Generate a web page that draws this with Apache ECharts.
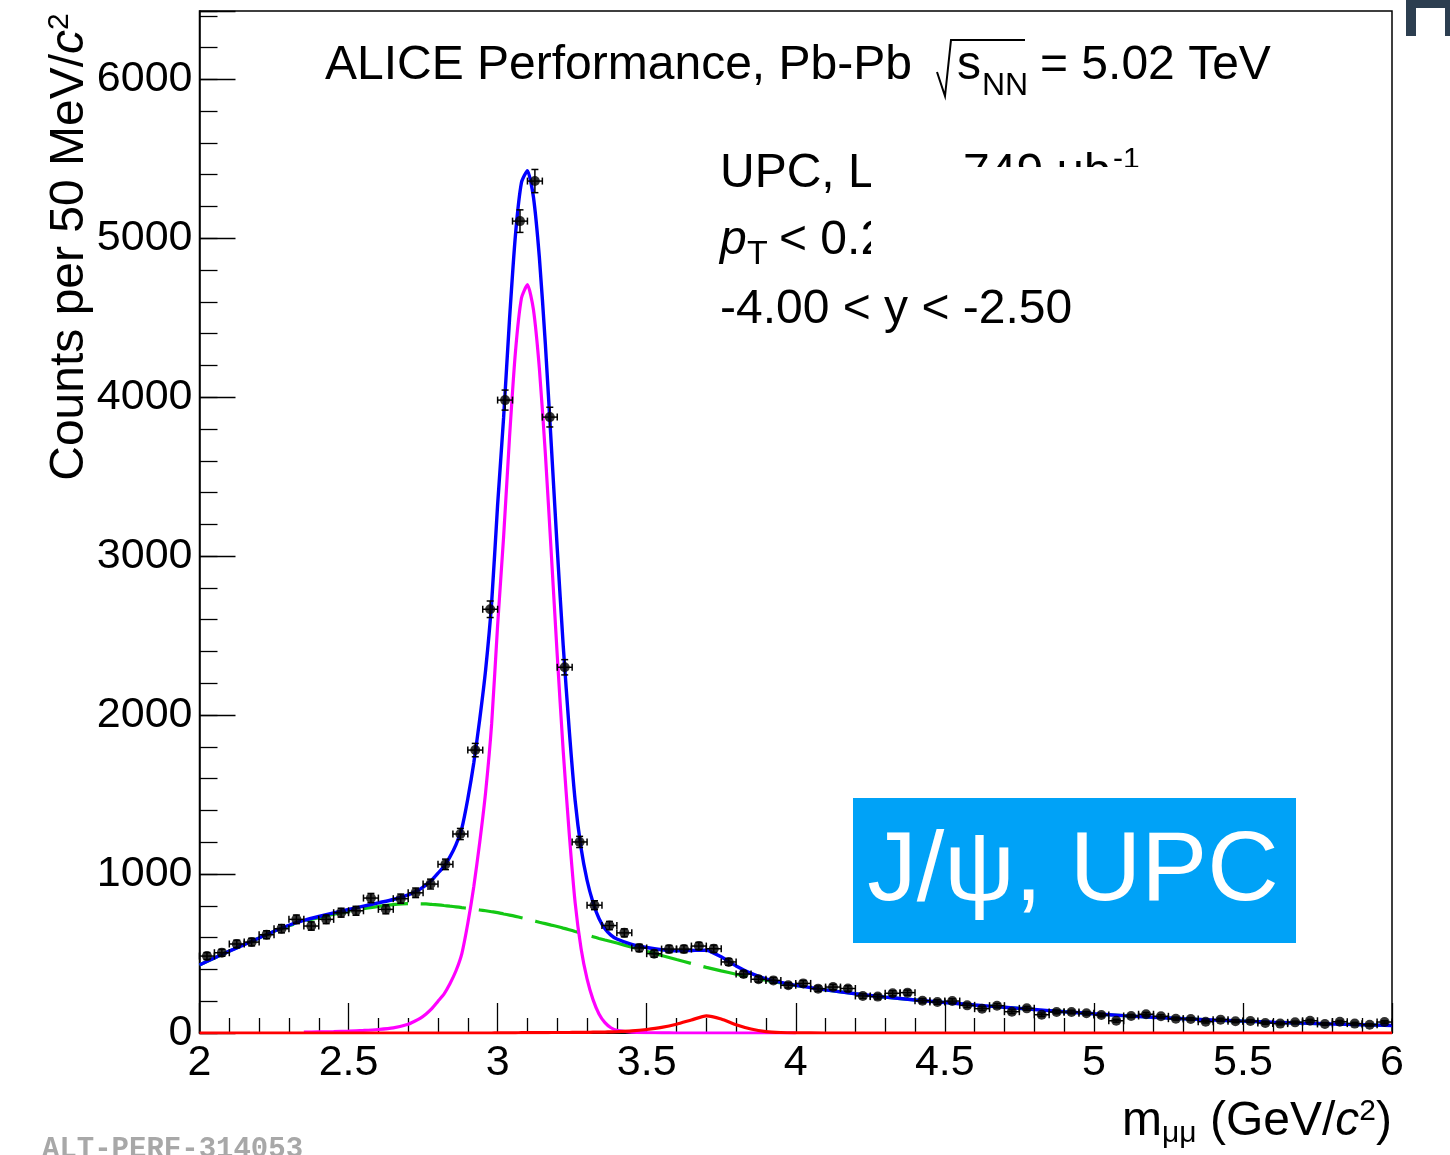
<!DOCTYPE html>
<html><head><meta charset="utf-8">
<script src="https://cdn.jsdelivr.net/npm/echarts@6/dist/echarts.min.js"></script>
<style>html,body{margin:0;padding:0;background:#fff}#c{width:1450px;height:1155px}</style>
</head><body><div id="c"></div>
<script>
// ---- data points (50 MeV bins) ----
const binCenters = [2.025,2.075,2.125,2.175,2.225,2.275,2.325,2.375,2.425,2.475,2.525,2.575,2.625,2.675,2.725,2.775,2.825,2.875,2.925,2.975,3.025,3.075,3.125,3.175,3.225,3.275,3.325,3.375,3.425,3.475,3.525,3.575,3.625,3.675,3.725,3.775,3.825,3.875,3.925,3.975,4.025,4.075,4.125,4.175,4.225,4.275,4.325,4.375,4.425,4.475,4.525,4.575,4.625,4.675,4.725,4.775,4.825,4.875,4.925,4.975,5.025,5.075,5.125,5.175,5.225,5.275,5.325,5.375,5.425,5.475,5.525,5.575,5.625,5.675,5.725,5.775,5.825,5.875,5.925,5.975];
const counts = [484,505,560,572,618,656,715,673,715,757,769,849,778,845,882,937,1061,1252,1780,2666,3982,5108,5360,3875,2301,1202,804,676,630,535,499,528,528,547,530,447,371,338,331,300,312,279,289,280,233,229,250,254,203,195,201,174,153,172,134,155,115,132,132,124,113,77,107,118,105,90,88,71,84,74,75,63,59,67,77,57,71,59,52,69];
const countErrors = [22,22,24,24,25,26,27,26,27,28,28,29,28,29,30,31,33,35,42,52,63,71,73,62,48,35,28,26,25,23,22,23,23,23,23,21,19,18,18,17,18,17,17,17,15,15,16,16,14,14,14,13,12,13,12,12,11,11,11,11,11,9,10,11,10,9,9,8,9,9,9,8,8,8,9,8,8,8,7,8];
const binHalfWidth = 0.025;

// ---- fit curves ----
const curveMass = [2.00,2.05,2.10,2.15,2.20,2.25,2.30,2.35,2.40,2.45,2.50,2.55,2.60,2.65,2.70,
 2.72,2.74,2.76,2.78,2.80,2.82,2.84,2.86,2.88,2.90,2.92,2.94,2.96,2.98,3.00,3.02,3.04,3.06,3.08,3.10,3.12,3.14,3.16,3.18,3.20,3.22,3.24,3.26,3.28,3.30,3.32,3.34,3.36,3.38,3.40,
 3.45,3.50,3.55,3.60,3.65,3.70,3.75,3.80,3.85,3.90,3.95,4.00,
 4.10,4.20,4.30,4.40,4.50,4.60,4.70,4.80,4.90,5.00,5.10,5.20,5.30,5.40,5.50,5.60,5.70,5.80,5.90,6.00];
const bkgVals = [428,472,515,556,598,640,675,703,726,747,765,782,797,808,814,
 814,813,812,809,806,802,798,794,789,784,779,774,769,763,757,749,742,734,725,716,707,697,688,679,670,660,650,639,628,617,606,595,585,576,566,
 540,514,488,462,437,413,391,370,350,332,315,299,
 271,247,226,208,192,176,162,148,134,121,109,99,90,82,75,68,62,57,52,47];
const jpsiVals = [null,null,null,null,null,null,null,5,7,9,12,16,22,32,55,
 72,92,120,155,200,245,310,390,500,690,920,1200,1520,1946,2566,3120,3750,4290,4624,4708,4553,4181,3648,3018,2375,1774,1259,820,530,340,210,120,65,33,17,
 5,2,1,0,0,0,0,0,0,0,0,0,
 null,null,null,null,null,null,null,null,null,null,null,null,null,null,null,null,null,null,null,null];
const psi2sVals = [0,0,0,0,0,0,0,0,0,0,0,0,0,0,0,
 0,0,0,0,0,0,0,0,0,0,0,0,0,0,1,1,1,1,2,2,2,2,2,3,3,3,3,4,4,4,5,5,6,7,8,
 13,22,35,55,82,108,88,52,25,9,3,1,
 0,0,0,0,0,0,0,0,0,0,0,0,0,0,0,0,0,0,0,0];
const totalVals = [428,472,515,556,598,640,678,708,733,756,777,798,819,840,869,
 886,905,932,964,1006,1047,1108,1184,1289,1474,1699,1974,2289,2709,3324,3870,4493,5025,5351,5426,5262,4880,4338,3700,3048,2437,1912,1463,1162,961,821,720,656,616,591,
 558,538,524,517,519,521,479,422,375,341,318,300,
 271,247,226,208,192,176,162,148,134,121,109,99,90,82,75,68,62,57,52,47];

const xTicks = {min: 2, max: 6, interval: 0.5};
const yTicks = {min: 0, max: 6430, major: 1000, minor: 200};

const FONT = '"Liberation Sans", Arial, Helvetica, sans-serif';
function pairs(xs, ys) { const out = []; for (let i = 0; i < xs.length; i++) { if (ys[i] !== null) out.push([xs[i], ys[i]]); } return out; }
const pointData = binCenters.map((x, i) => [x, counts[i], countErrors[i]]);

const chart = echarts.init(document.getElementById('c'), null, {renderer: 'canvas'});
const axisLineStyle = {color: '#000', width: 1.5};
const tickStyle = {color: '#000', width: 1.3};

const option = {
  animation: false,
  backgroundColor: '#fff',
  grid: {left: 199.5, right: 58, top: 11, bottom: 122, show: true, borderColor: '#000', borderWidth: 1.5, backgroundColor: 'transparent'},
  xAxis: {
    type: 'value', min: xTicks.min, max: xTicks.max, interval: xTicks.interval,
    axisLine: {show: true, lineStyle: axisLineStyle},
    axisTick: {show: true, inside: true, length: 30, lineStyle: tickStyle},
    minorTick: {show: true, splitNumber: 5, length: 15, lineStyle: tickStyle},
    splitLine: {show: false}, minorSplitLine: {show: false},
    axisLabel: {color: '#000', fontSize: 43, fontFamily: FONT, margin: 9, formatter: v => String(v)}
  },
  yAxis: [
    {
      type: 'value', min: yTicks.min, max: yTicks.max, interval: yTicks.minor, position: 'left',
      axisLine: {show: true, lineStyle: axisLineStyle},
      axisTick: {show: true, inside: true, length: 18, lineStyle: tickStyle},
      axisLabel: {show: false}, splitLine: {show: false}
    },
    {
      type: 'value', min: yTicks.min, max: yTicks.max, interval: yTicks.major, position: 'left',
      axisLine: {show: false},
      axisTick: {show: true, inside: true, length: 36, lineStyle: tickStyle},
      axisLabel: {color: '#000', fontSize: 43, fontFamily: FONT, margin: 7,
        formatter: v => (v % yTicks.major === 0 ? String(v) : '')},
      splitLine: {show: false}
    }
  ],
  series: [
    {type: 'line', name: 'background', data: pairs(curveMass, bkgVals), showSymbol: false, symbol: 'none', smooth: 0.2,
      lineStyle: {color: '#14c814', width: 3.2, type: [45, 13]}, z: 2},
    {type: 'line', name: 'J/psi', data: pairs(curveMass, jpsiVals), showSymbol: false, symbol: 'none', smooth: 0.2,
      lineStyle: {color: '#ff00ff', width: 3.2}, z: 2},
    {type: 'line', name: 'psi2S', data: pairs(curveMass, psi2sVals), showSymbol: false, symbol: 'none', smooth: 0.2,
      lineStyle: {color: '#ff0000', width: 3.2}, z: 3},
    {type: 'line', name: 'total', data: pairs(curveMass, totalVals), showSymbol: false, symbol: 'none', smooth: 0.2,
      lineStyle: {color: '#0000ff', width: 3.4}, z: 4},
    {type: 'custom', name: 'errors', data: pointData, encode: {x: 0, y: 1}, z: 5,
      renderItem: (params, api) => {
        const x = api.value(0), y = api.value(1), e = api.value(2);
        const l = api.coord([x - binHalfWidth, y]), r = api.coord([x + binHalfWidth, y]);
        const t = api.coord([x, y + e]), b = api.coord([x, y - e]);
        const cap = 3.5, st = {stroke: '#000', lineWidth: 1.5};
        return {type: 'group', children: [
          {type: 'line', shape: {x1: l[0], y1: l[1], x2: r[0], y2: r[1]}, style: st},
          {type: 'line', shape: {x1: l[0], y1: l[1] - cap, x2: l[0], y2: l[1] + cap}, style: st},
          {type: 'line', shape: {x1: r[0], y1: r[1] - cap, x2: r[0], y2: r[1] + cap}, style: st},
          {type: 'line', shape: {x1: t[0], y1: t[1], x2: b[0], y2: b[1]}, style: st},
          {type: 'line', shape: {x1: t[0] - cap, y1: t[1], x2: t[0] + cap, y2: t[1]}, style: st},
          {type: 'line', shape: {x1: b[0] - cap, y1: b[1], x2: b[0] + cap, y2: b[1]}, style: st}
        ]};
      }},
    {type: 'scatter', name: 'data', data: pointData.map(p => [p[0], p[1]]), symbol: 'circle', symbolSize: 10,
      itemStyle: {color: '#000'}, z: 6}
  ],
  graphic: [
    {type: 'text', x: 325, y: 66, style: {text: 'ALICE Performance, Pb-Pb', fontSize: 48, fontFamily: FONT, fill: '#000', align: 'left', verticalAlign: 'middle'}},
    {type: 'polyline', shape: {points: [[937, 72], [945, 96], [951, 40], [1025, 40]]}, style: {stroke: '#000', lineWidth: 2, fill: null}},
    {type: 'text', x: 957, y: 66, style: {text: 's', fontSize: 48, fontFamily: FONT, fill: '#000', align: 'left', verticalAlign: 'middle'}},
    {type: 'text', x: 982, y: 86.5, style: {text: 'NN', fontSize: 32, fontFamily: FONT, fill: '#000', align: 'left', verticalAlign: 'middle'}},
    {type: 'text', x: 1040, y: 66, style: {text: '= 5.02 TeV', fontSize: 48, fontFamily: FONT, fill: '#000', align: 'left', verticalAlign: 'middle'}},

    {type: 'text', x: 720, y: 174, style: {text: 'UPC, L', fontSize: 48, fontFamily: FONT, fill: '#000', align: 'left', verticalAlign: 'middle'}},
    {type: 'text', x: 963, y: 174, style: {text: '749 μb', fontSize: 48, fontFamily: FONT, fill: '#000', align: 'left', verticalAlign: 'middle'}},
    {type: 'text', x: 1113, y: 160, style: {text: '-1', fontSize: 30, fontFamily: FONT, fill: '#000', align: 'left', verticalAlign: 'middle'}},
    {type: 'text', x: 720, y: 241, style: {text: 'p', fontSize: 48, fontStyle: 'italic', fontFamily: FONT, fill: '#000', align: 'left', verticalAlign: 'middle'}},
    {type: 'text', x: 747, y: 255, style: {text: 'T', fontSize: 34, fontFamily: FONT, fill: '#000', align: 'left', verticalAlign: 'middle'}},
    {type: 'text', x: 779, y: 241, style: {text: '< 0.25 GeV/c', fontSize: 48, fontFamily: FONT, fill: '#000', align: 'left', verticalAlign: 'middle'}},
    {type: 'rect', shape: {x: 871, y: 167, width: 330, height: 115}, style: {fill: '#fff'}},
    {type: 'text', x: 720, y: 309.5, style: {text: '-4.00 < y < -2.50', fontSize: 48, fontFamily: FONT, fill: '#000', align: 'left', verticalAlign: 'middle'}},

    {type: 'rect', shape: {x: 853, y: 798, width: 443, height: 145}, style: {fill: '#00a2f7'}},
    {type: 'text', x: 1073, y: 873, style: {text: 'J/ψ, UPC', fontSize: 99, fontFamily: FONT, fill: '#fff', align: 'center', verticalAlign: 'middle'}},

    {type: 'text', x: 70, y: 247, rotation: Math.PI / 2, style: {
      text: '{n|Counts per 50 MeV/}{i|c}{sup|2}', align: 'center', verticalAlign: 'middle', fill: '#000',
      rich: {n: {fontSize: 48, fontFamily: FONT, fill: '#000'}, i: {fontSize: 48, fontFamily: FONT, fontStyle: 'italic', fill: '#000'},
             sup: {fontSize: 30, fontFamily: FONT, fill: '#000', padding: [0, 0, 20, 0]}}}},
    {type: 'text', x: 1392, y: 1122, style: {
      text: '{n|m}{sub|μμ}{n| (GeV/}{i|c}{sup|2}{n|)}', align: 'right', verticalAlign: 'middle', fill: '#000',
      rich: {n: {fontSize: 48, fontFamily: FONT, fill: '#000'}, i: {fontSize: 48, fontFamily: FONT, fontStyle: 'italic', fill: '#000'},
             sub: {fontSize: 30, fontFamily: FONT, fill: '#000', padding: [24, 0, 0, 0]},
             sup: {fontSize: 30, fontFamily: FONT, fill: '#000', padding: [0, 0, 20, 0]}}}},

    {type: 'text', x: 42, y: 1150, style: {text: 'ALT-PERF-314053', fontSize: 29, fontWeight: 'bold', fontFamily: '"Liberation Mono", "DejaVu Sans Mono", monospace', fill: '#a8a8a8', align: 'left', verticalAlign: 'middle'}},

    {type: 'rect', shape: {x: 1406, y: 0, width: 10, height: 36}, style: {fill: '#2c3e50'}},
    {type: 'rect', shape: {x: 1406, y: 0, width: 44, height: 8}, style: {fill: '#2c3e50'}},
    {type: 'rect', shape: {x: 1445, y: 0, width: 5, height: 36}, style: {fill: '#2c3e50'}}
  ]
};
chart.setOption(option);
</script>
</body></html>
